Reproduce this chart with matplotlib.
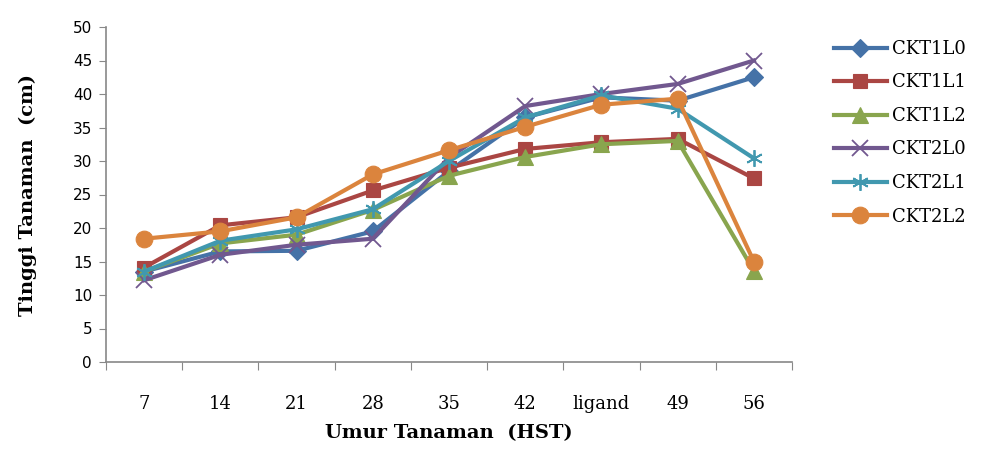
import matplotlib.pyplot as plt
import numpy as np

categories = ['7', '14', '21', '28', '35', '42', 'ligand', '49', '56']
ckt1l0 = [13.5, 16.5, 16.6, 19.5, 28.5, 36.5, 39.5, 39.0, 42.5]
ckt1l1 = [14.1, 20.4, 21.6, 25.6, 29.0, 31.8, 32.8, 33.3, 27.4]
ckt1l2 = [13.5, 17.7, 19.0, 22.7, 27.8, 30.6, 32.5, 33.0, 13.6]
ckt2l0 = [12.2, 16.0, 17.5, 18.4, 30.5, 38.2, 40.0, 41.5, 45.0]
ckt2l1 = [13.5, 18.1, 19.8, 22.8, 30.0, 36.5, 39.8, 37.8, 30.4]
ckt2l2 = [18.4, 19.5, 21.6, 28.0, 31.6, 35.1, 38.4, 39.3, 15.0]

series = [
    ('CKT1L0', ckt1l0, '#4572A7', 'D', 9),
    ('CKT1L1', ckt1l1, '#AA4643', 's', 10),
    ('CKT1L2', ckt1l2, '#89A54E', '^', 11),
    ('CKT2L0', ckt2l0, '#71588F', 'x', 12),
    ('CKT2L1', ckt2l1, '#4198AF', (6, 2, 0), 12),
    ('CKT2L2', ckt2l2, '#DB843D', 'o', 12),
]

plt.rcParams['font.family'] = ['DejaVu Serif']

fig = plt.figure(figsize=(9.84, 4.53), dpi=100)
ax = fig.add_axes([106 / 984, 1 - 362 / 453, (792 - 106) / 984, (362 - 27) / 453])

x = np.arange(len(categories))
for name, vals, col, mk, ms in series:
    ax.plot(x, vals, color=col, lw=3.0, marker=mk, markersize=ms,
            markeredgewidth=1.3 if mk in ('x', (6, 2, 0)) else 0.8,
            markeredgecolor=col, label=name)

ax.set_xlim(-0.5, len(categories) - 0.5)
ax.set_ylim(0, 50)
ax.set_yticks(np.arange(0, 51, 5))
ax.set_yticklabels([str(v) for v in range(0, 51, 5)], family='DejaVu Sans', fontsize=11)
ax.set_xticks(np.arange(-0.5, len(categories), 1.0))
ax.set_xticklabels([])
ax.set_xticks(x, minor=True)
ax.set_xticklabels(categories, minor=True)
ax.tick_params(axis='x', which='minor', length=0, pad=24, labelsize=13)
ax.tick_params(axis='x', which='major', length=6, color='#888888')
ax.tick_params(axis='y', length=5, color='#888888', pad=5)

for s in ['top', 'right']:
    ax.spines[s].set_visible(False)
for s in ['left', 'bottom']:
    ax.spines[s].set_color('#888888')
    ax.spines[s].set_linewidth(1.2)

ax.set_xlabel('Umur Tanaman  (HST)', fontsize=14, fontweight='bold', labelpad=8)
ax.set_ylabel('Tinggi Tanaman  (cm)', fontsize=14, fontweight='bold', labelpad=26)

ax.legend(loc='upper left', bbox_to_anchor=(1.038, 1.01), frameon=False,
          fontsize=13, handlelength=2.9, labelspacing=0.86, handletextpad=0.3)

fig.savefig('out.png', dpi=100)
